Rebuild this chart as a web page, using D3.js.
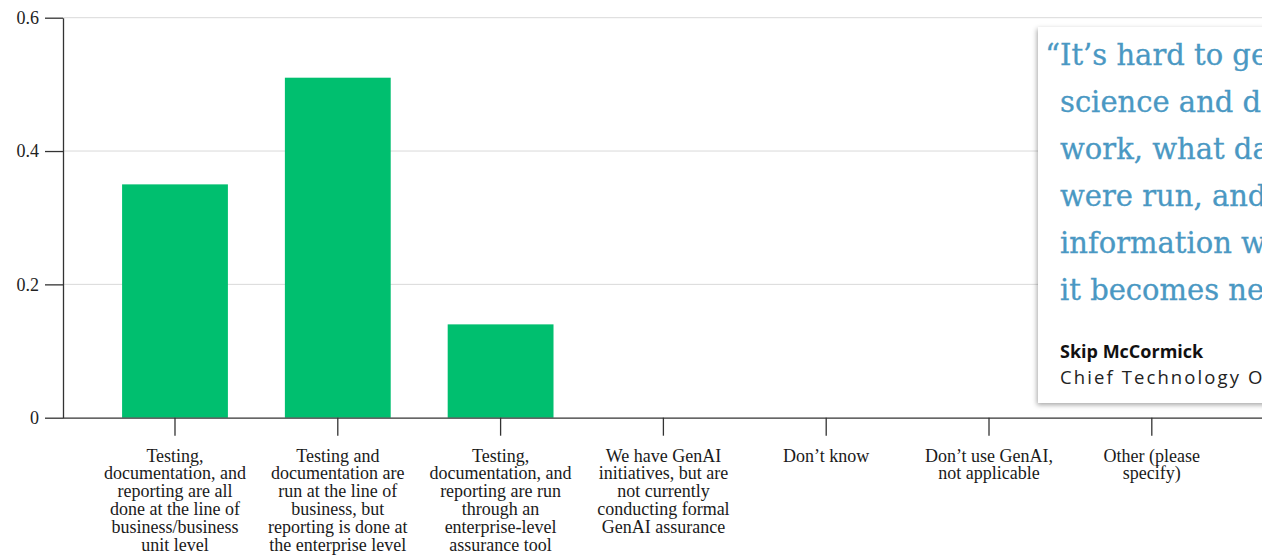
<!DOCTYPE html>
<html>
<head>
<meta charset="utf-8">
<script src="https://cdn.jsdelivr.net/npm/d3@7"></script>
<style>
  html, body { margin: 0; padding: 0; background: #fff; overflow: hidden; }
  svg { display: block; }
</style>
</head>
<body>
<svg id="chart" width="1262" height="556"></svg>
<script>
// ---- data ----
const categories = [
  "Testing, documentation, and reporting are all done at the line of business/business unit level",
  "Testing and documentation are run at the line of business, but reporting is done at the enterprise level",
  "Testing, documentation, and reporting are run through an enterprise-level assurance tool",
  "We have GenAI initiatives, but are not currently conducting formal GenAI assurance",
  "Don\u2019t know",
  "Don\u2019t use GenAI, not applicable",
  "Other (please specify)"
];
const values = [0.35, 0.51, 0.14, 0, 0, 0, 0];
const yTicks = [0, 0.2, 0.4, 0.6];
const yTickLabels = ["0", "0.2", "0.4", "0.6"];
const quoteLines = [
  "It\u2019s hard to get visibility into data",
  "science and data engineering",
  "work, what data sets and models",
  "were run, and to surface that",
  "information when and where",
  "it becomes necessary.\u201d"
];
const quoteName = "Skip McCormick";
const quoteTitle = "Chief Technology Officer";

// ---- layout ----
const svg = d3.select("#chart");
const mLeft = 63, mTop = 17.7, mBottom = 417.7;

const x = d3.scaleBand().domain(categories).range([65.1, 1261.7])
  .paddingInner(0.35).paddingOuter(0.35);
const y = d3.scaleLinear().domain([0, 0.6]).range([mBottom, mTop]);

const serif = "'Liberation Serif', 'Times New Roman', serif";

// gridlines
svg.append("g").selectAll("line").data(yTicks.filter(d => d > 0)).join("line")
  .attr("x1", mLeft).attr("x2", 1262)
  .attr("y1", d => y(d)).attr("y2", d => y(d))
  .attr("stroke", "#d9d9d9").attr("stroke-width", 1);

// bars
svg.append("g").selectAll("rect").data(values).join("rect")
  .attr("x", (d, i) => x(categories[i]))
  .attr("width", x.bandwidth())
  .attr("y", d => y(d))
  .attr("height", d => y(0) - y(d))
  .attr("fill", "#00bf6f");

// y axis
const yAxis = d3.axisLeft(y).tickValues(yTicks)
  .tickFormat((d, i) => yTickLabels[i]).tickSize(18).tickSizeOuter(0).tickPadding(6);
const gy = svg.append("g").attr("transform", `translate(${mLeft},0)`).call(yAxis);
gy.selectAll("path, line").attr("stroke", "#333").attr("stroke-width", 1.3);
gy.selectAll("text").attr("font-family", serif).attr("font-size", 18).attr("fill", "#222");

// x axis
const xAxis = d3.axisBottom(x).tickSize(18).tickSizeOuter(0).tickFormat("");
const gx = svg.append("g").attr("transform", `translate(0,${mBottom})`).call(xAxis);
gx.select("path.domain").attr("d", `M${mLeft},0.5H1262`);
gx.selectAll("path, line").attr("stroke", "#333").attr("stroke-width", 1.3);

// wrapped category labels
const lineH = 17.8, maxW = 150;
gx.selectAll(".tick").each(function(d) {
  const t = d3.select(this).append("text")
    .attr("font-family", serif).attr("font-size", 18).attr("fill", "#1a1a1a")
    .attr("text-anchor", "middle").attr("y", 44);
  const words = d.split(" ");
  let line = [], lines = [];
  const probe = t.append("tspan").attr("x", 0);
  words.forEach(w => {
    const test = line.concat([w]).join(" ");
    probe.text(test);
    if (probe.node().getComputedTextLength() > maxW && line.length) {
      lines.push(line.join(" "));
      line = [w];
    } else line.push(w);
  });
  lines.push(line.join(" "));
  probe.remove();
  lines.forEach((l, i) => {
    t.append("tspan").attr("x", 0).attr("dy", i === 0 ? 0 : lineH).text(l);
  });
});

// quote card
const defs = svg.append("defs");
const f = defs.append("filter").attr("id", "shadow").attr("x", "-10%").attr("y", "-10%")
  .attr("width", "130%").attr("height", "130%");
f.append("feDropShadow").attr("dx", -1).attr("dy", 2).attr("stdDeviation", 2.5)
  .attr("flood-color", "#000").attr("flood-opacity", 0.35);

const card = svg.append("g");
card.append("rect").attr("x", 1038).attr("y", 27).attr("width", 320).attr("height", 376)
  .attr("fill", "#fff").attr("filter", "url(#shadow)");

const qFont = "'DejaVu Serif', serif";
const qx = 1060;
quoteLines.forEach((l, i) => {
  const t = card.append("text").attr("x", qx).attr("y", 65 + i * 47)
    .attr("font-family", qFont).attr("font-size", 29).attr("fill", "#4a98c3")
    .attr("stroke", "#4a98c3").attr("stroke-width", 0.3);
  if (i === 0) {
    const q = card.append("text").attr("font-family", qFont).attr("font-size", 29).text("\u201c");
    const w = q.node().getComputedTextLength();
    q.remove();
    t.attr("x", qx - w).text("\u201c" + l);
  } else {
    t.text(l);
  }
});
card.append("text").attr("x", 1060).attr("y", 358)
  .attr("font-family", "'Open Sans', sans-serif").attr("font-weight", 700)
  .attr("font-size", 18).attr("fill", "#111").text(quoteName);
card.append("text").attr("x", 1060).attr("y", 384)
  .attr("font-family", "'Open Sans', sans-serif").attr("font-weight", 400)
  .attr("font-size", 18.5).attr("letter-spacing", 2.1).attr("fill", "#222").text(quoteTitle);
</script>
</body>
</html>
